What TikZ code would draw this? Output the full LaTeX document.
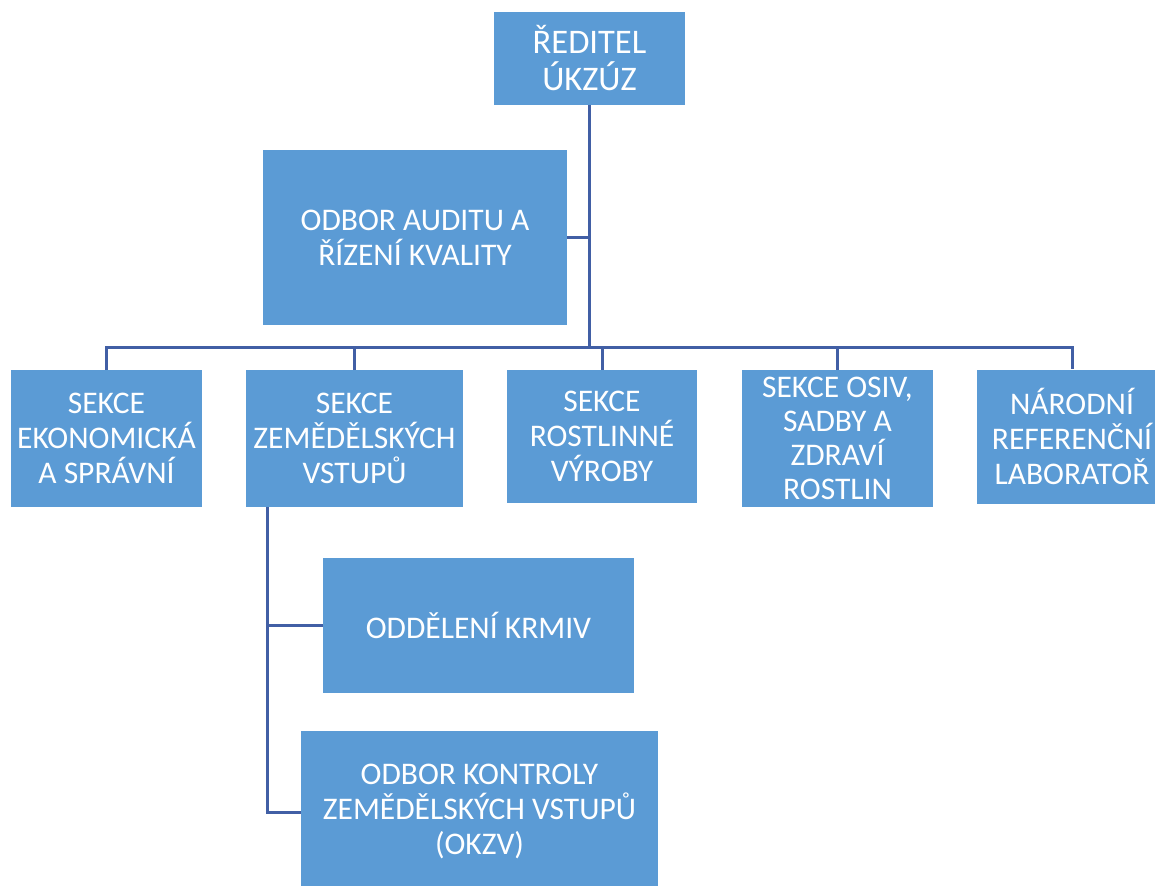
\documentclass[tikz,border=0pt]{standalone}
\usepackage{fontspec}
\setmainfont{Carlito}
\usepackage{tikz, xcolor}
\usetikzlibrary{calc}
\definecolor{boxBlue}{RGB}{91,155,213}
\definecolor{lineBlue}{RGB}{65,95,165}

\begin{document}
\begin{tikzpicture}[x=1pt, y=-1pt,
	unit/.style={fill=boxBlue, text=white, align=center, inner sep=0pt,
		font=\fontsize{31.5}{35}\selectfont},
	link/.style={draw=lineBlue, line width=3pt}]

% Page frame.

	\useasboundingbox (0,0) rectangle (1155,885);
	\clip (0,0) rectangle (1155,885);

% Define boxes.

	%head
	\node[unit, minimum width=191pt, minimum height=93pt, font=\fontsize{34.5}{37}\selectfont] (reditel) at (589.5, 58.5) {ŘEDITEL\\ÚKZÚZ};
	\node[unit, minimum width=304pt, minimum height=175pt] (audit) at (415, 237.5) {ODBOR AUDITU A\\ŘÍZENÍ KVALITY};

	%sections
	\node[unit, minimum width=191pt, minimum height=137pt] (ekon) at (106.5, 438.5) {SEKCE\\EKONOMICKÁ\\A SPRÁVNÍ};
	\node[unit, minimum width=217pt, minimum height=137pt] (zem) at (354.5, 438.5) {SEKCE\\ZEMĚDĚLSKÝCH\\VSTUPŮ};
	\node[unit, minimum width=190pt, minimum height=133pt] (rostl) at (602, 436.5) {SEKCE\\ROSTLINNÉ\\VÝROBY};
	\node[unit, minimum width=191pt, minimum height=137pt, font=\fontsize{31.5}{34}\selectfont] (osiv) at (837.5, 438.5) {SEKCE OSIV,\\SADBY A\\ZDRAVÍ\\ROSTLIN};
	\node[unit, minimum width=190pt, minimum height=134pt] (nrl) at (1072, 436.5) {NÁRODNÍ\\REFERENČNÍ\\LABORATOŘ};

	%departments
	\node[unit, minimum width=311pt, minimum height=135pt] (krmiv) at (478.5, 625.5) {ODDĚLENÍ KRMIV};
	\node[unit, minimum width=357pt, minimum height=160pt] (okzv) at (479.5, 811) {ODBOR KONTROLY\\ZEMĚDĚLSKÝCH VSTUPŮ\\(OKZV)};

% Define junctions.

	\coordinate (bus) at (589.5, 347);
	\coordinate (zemFoot) at (267, 507);

% Draw links.

	\draw[link] (reditel.south) -- (bus);
	\draw[link] (audit.east) -- (audit.east -| bus);
	\draw[link] (bus) -| (ekon.north);
	\draw[link] (bus) -| (zem.north);
	\draw[link] (bus) -| (rostl.north);
	\draw[link] (bus) -| (osiv.north);
	\draw[link] (bus) -| (nrl.north);

	\draw[link] (zemFoot) |- (krmiv.west);
	\draw[link] (zemFoot) |- ($(okzv.west)+(0,1)$);

\end{tikzpicture}
\end{document}
